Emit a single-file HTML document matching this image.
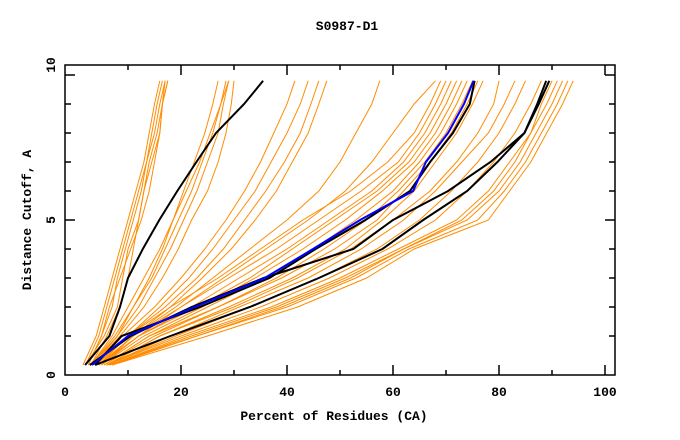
<!DOCTYPE html>
<html><head><meta charset="utf-8"><style>
html,body{margin:0;padding:0;background:#fff;}
svg{display:block;font-family:"Liberation Mono",monospace;font-weight:bold;}
</style></head><body>
<svg id="chart" width="680" height="440" xmlns="http://www.w3.org/2000/svg">
<text x="347" y="30" text-anchor="middle" font-size="13">S0987-D1</text>
<text x="334" y="420" text-anchor="middle" font-size="13">Percent of Residues (CA)</text>
<text transform="translate(31,220) rotate(-90)" text-anchor="middle" font-size="13">Distance Cutoff, A</text>
<g id="series"></g>
<g id="axes"></g>
</svg>
<script>
const levels=[0,1,2,3,4,5,6,7,8,9,9.8];
const orangeSeries=[
[1.5,4,5.5,7,8.5,10,11.5,13,14,15,16],
[2,4.5,6,7.5,9,10.5,12,13.5,14.5,15.5,16.5],
[2.5,5,7,8,9.5,11,12.5,13.5,15,16,17],
[2,5.5,8,9,10,12,13,14,15.5,16.5,17.5],
[2.5,5,6.5,8.5,10.5,12.5,14,15,16,16.5,17],
[3,6,8.5,10,11,12,13,14.5,16,16.5,17.5],
[3,7,10,13,16,18.5,20.5,22.5,24.5,26,27],
[3,7.5,11,14.5,17,19.5,22,24,26,27.5,29],
[3.5,8,12,15,18,20.5,23,25,27,28,29],
[3,8,11,14,16.5,18.5,21,23.5,25.5,27.5,28.5],
[3.5,8.5,13,16.5,19.5,22,25,27,28.5,29.5,30],
[4,9,15,20,24.5,28.5,32,35,37.5,40,41.5],
[4,10,16,21.5,26,30,34,37,40,42.5,44],
[4,10,17,23,28,32,36,39.5,42.5,44.5,46],
[4.5,11,18,24,29.5,34,38,41,44,46,47.5],
[4.5,11,19,26,33,40,46,50,53,56,57.5],
[4.5,12,20,28,36,44,51,56,60,64,68],
[4.5,10,18,27,35,43,52,59,64,67,69],
[5,11,20,29,38,46,54,61,65,68,70],
[5,12,22,31,40,48,56,62,66,69,71],
[5,12,23,33,41,49,57,63,67,70,72],
[5,13,24,34,43,51,58,64,68,71,73],
[5.5,14,25,36,45,53,60,65,69,72,74],
[5.5,15,27,38,47,55,61,66,70,73,75],
[5.5,14,27,39,49,57,62,67,71,74,76],
[6,16,29,41,51,58,64,68,72,75,77],
[6,16,30,42,52,60,67,72,76,79,80],
[6,18,31,44,54,62,68,73,78,81,83],
[6,19,33,46,57,65,71,76,80,83,85],
[6,20,35,48,59,68,74,79,83,86,88],
[6.5,21,37,50,61,72,78,82,86,89,91],
[6.5,22,38,51,62,74,80,84,87,90,92],
[7,23,40,53,63,76,81,85,88,91,93],
[7,25,42,55,64,78,82,86,89,92,94],
[6.5,23,39,52,62,73,79,83,86,88,90]
];
const blackSeries=[
[1.9,6.5,8.5,10,12.8,15.9,19.3,22.9,26.6,31.9,35.5],
[3.8,8.8,23.6,36.7,45.4,54.8,63.2,67,71.3,74.5,75.4],
[2.8,10.5,22,35.6,52.5,60,70.4,78.4,84.8,87.2,88.9],
[3.8,18,33,46,58,65.7,74,79.7,84.8,87.5,89.5]
];
const blueSeries=[3.2,10,22.6,35.8,44.9,53.8,63.8,66.2,70.4,73.4,75.2];
const xTicks=[0,20,40,60,80,100];
const yTicks=[0,5,10];

const NS="http://www.w3.org/2000/svg";
const X0=65,X1=615,Y0=375,Y1=65;
function sx(v){return 75+5.3*v;}
function sy(v){return 365-29*v;}
const sg=document.getElementById('series');
const ag=document.getElementById('axes');
function drawLine(vals,color,w,name){
  const p=document.createElementNS(NS,'polyline');
  p.setAttribute('points',vals.map((v,i)=>sx(v).toFixed(1)+','+sy(levels[i]).toFixed(1)).join(' '));
  p.setAttribute('fill','none');p.setAttribute('stroke',color);p.setAttribute('stroke-width',w);
  
  
  sg.appendChild(p);
}
orangeSeries.forEach((s,i)=>drawLine(s,'#ff8c00',1,'orange-series-line'));
blackSeries.forEach((s,i)=>drawLine(s,'#000',2,'black-series-line'));
drawLine(blueSeries,'#0000ff',2,'blue-series-line');

function ln(x1,y1,x2,y2,name){
  const l=document.createElementNS(NS,'line');
  l.setAttribute('x1',x1);l.setAttribute('y1',y1);l.setAttribute('x2',x2);l.setAttribute('y2',y2);
  l.setAttribute('stroke','#000');l.setAttribute('stroke-width',1.5);
  
  
  ag.appendChild(l);
}
const box=document.createElementNS(NS,'rect');
box.setAttribute('x',X0);box.setAttribute('y',Y1);box.setAttribute('width',X1-X0);box.setAttribute('height',Y0-Y1);
box.setAttribute('fill','none');box.setAttribute('stroke','#000');box.setAttribute('stroke-width',1.5);


ag.appendChild(box);
for(let v=10;v<=100;v+=10){
  const L=(v%20===0)?10:5;
  ln(sx(v),Y0,sx(v),Y0-L,'x-tick');
  ln(sx(v),Y1,sx(v),Y1+L,'x-tick-top');
}
for(let v=1;v<=10;v++){
  const L=(v%5===0)?10:6;
  ln(X0,sy(v),X0+L,sy(v),'y-tick');
  ln(X1,sy(v),X1-L,sy(v),'y-tick-right');
}
xTicks.forEach(v=>{
  const t=document.createElementNS(NS,'text');
  t.setAttribute('x',v===0?X0:sx(v));t.setAttribute('y',396);t.setAttribute('text-anchor','middle');t.setAttribute('font-size','13');
  t.textContent=v;
  
  
  ag.appendChild(t);
});
yTicks.forEach(v=>{
  const t=document.createElementNS(NS,'text');
  const y=v===0?Y0:(v===10?Y1:sy(v));
  t.setAttribute('transform','translate(55,'+y+') rotate(-90)');t.setAttribute('text-anchor','middle');t.setAttribute('font-size','13');
  t.textContent=v;
  
  
  ag.appendChild(t);
});
</script>
</body></html>
